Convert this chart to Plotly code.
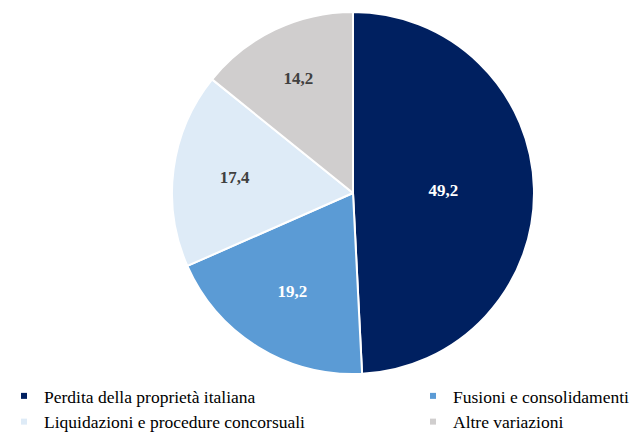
import plotly.graph_objects as go

categories = ["Perdita della proprietà italiana", "Fusioni e consolidamenti",
              "Liquidazioni e procedure concorsuali", "Altre variazioni"]
values = [49.2, 19.2, 17.4, 14.2]
labels_text = ["49,2", "19,2", "17,4", "14,2"]
colors = ["#002060", "#5B9BD5", "#DEEBF7", "#D0CECE"]
text_colors = ["#FFFFFF", "#FFFFFF", "#404040", "#404040"]
legend_column = ["legend", "legend2", "legend", "legend2"]

FONT = "Liberation Serif"
W, H = 631, 435
fig = go.Figure(go.Pie(
    labels=categories, values=values, text=labels_text,
    textinfo="text", textposition="inside", insidetextorientation="horizontal",
    sort=False, direction="clockwise", rotation=0,
    marker=dict(colors=colors, line=dict(color="#FFFFFF", width=2)),
    textfont=dict(family=FONT, size=17, color=text_colors, weight="bold"),
    domain=dict(x=[172 / W, 534 / W], y=[1 - 375 / H, 1 - 11 / H]),
    hoverinfo="label+value", showlegend=False,
))
for name, col, leg in zip(categories, colors, legend_column):
    fig.add_trace(go.Scatter(
        x=[None], y=[None], mode="markers", name=name, legend=leg,
        marker=dict(symbol="square", size=6, color=col),
    ))
leg_common = dict(orientation="v", yanchor="top", y=1 - 378 / H, xanchor="left",
                  bgcolor="rgba(0,0,0,0)", font=dict(family=FONT, size=17.5, color="#000000"),
                  itemwidth=30, tracegroupgap=0)
fig.update_layout(
    width=W, height=H, margin=dict(l=0, r=0, t=0, b=0, autoexpand=False),
    paper_bgcolor="white", plot_bgcolor="white",
    font=dict(family=FONT, size=17, color="#000000"),
    xaxis=dict(visible=False), yaxis=dict(visible=False),
    legend=dict(x=4 / W, **leg_common),
    legend2=dict(x=413 / W, **leg_common),
)
fig.write_html("out.html", config={"displayModeBar": False},
               post_script="document.body.style.margin='0';")
